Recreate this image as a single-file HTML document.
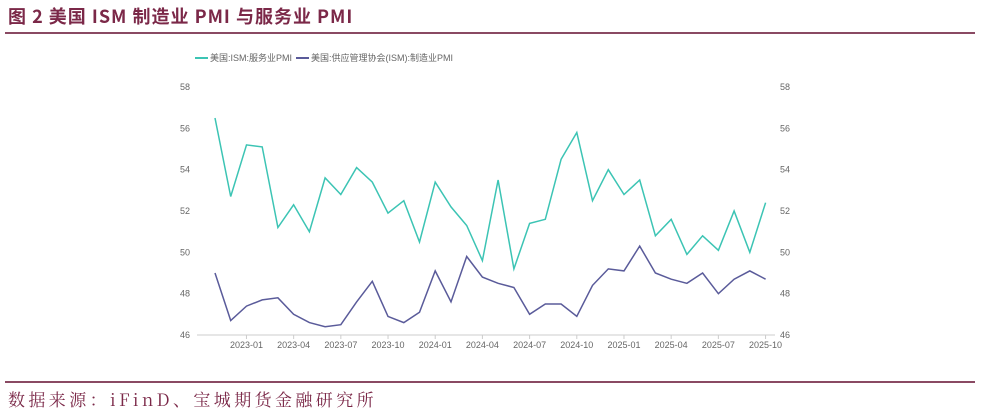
<!DOCTYPE html>
<html><head><meta charset="utf-8"><style>
body{margin:0;width:981px;height:414px;background:#fff;overflow:hidden;font-family:"Liberation Sans","Noto Sans CJK SC",sans-serif}
.t{position:absolute;left:8px;top:3px;font-size:18px;font-weight:bold;color:#7b2848;letter-spacing:1px;font-family:"Noto Sans CJK SC",sans-serif;white-space:nowrap}
.l1{position:absolute;left:5px;top:32px;width:970px;height:2px;background:#8a4a63}
.l2{position:absolute;left:5px;top:381px;width:970px;height:2px;background:#8a4a63}
.s{position:absolute;left:8px;top:386px;font-size:17px;color:#7b2848;letter-spacing:3.4px;font-family:"Noto Serif CJK SC",serif;white-space:nowrap}
svg{position:absolute;left:0;top:0}
text{font-family:"Liberation Sans","Noto Sans CJK SC",sans-serif;font-size:9px;fill:#666}
</style></head><body>
<div class="t">图 2 美国 ISM 制造业 PMI 与服务业 PMI</div>
<div class="l1"></div>
<svg width="981" height="414" id="c">
<line x1="197" y1="335" x2="775" y2="335" stroke="#ccc"/>
<line x1="195" y1="58" x2="208" y2="58" stroke="#3cc4b4" stroke-width="2"/>
<text x="210" y="61">美国:ISM:服务业PMI</text>
<line x1="296" y1="58" x2="309" y2="58" stroke="#5a5b9a" stroke-width="2"/>
<text x="311" y="61">美国:供应管理协会(ISM):制造业PMI</text>
</svg>
<div class="l2"></div>
<div class="s">数据来源：iFinD、宝城期货金融研究所</div>
<script>
var s=[56.5,52.7,55.2,55.1,51.2,52.3,51.0,53.6,52.8,54.1,53.4,51.9,52.5,50.5,53.4,52.2,51.3,49.6,53.5,49.2,51.4,51.6,54.5,55.8,52.5,54.0,52.8,53.5,50.8,51.6,49.9,50.8,50.1,52.0,50.0,52.4];
var m=[49.0,46.7,47.4,47.7,47.8,47.0,46.6,46.4,46.5,47.6,48.6,46.9,46.6,47.1,49.1,47.6,49.8,48.8,48.5,48.3,47.0,47.5,47.5,46.9,48.4,49.2,49.1,50.3,49.0,48.7,48.5,49.0,48.0,48.7,49.1,48.7];
function X(i){return 215+i*15.73}function Y(v){return 335-(v-46)*20.667}
var h='';
for(var v=46;v<=58;v+=2){h+='<text x="190" y="'+(Y(v)+3)+'" text-anchor="end">'+v+'</text><text x="780" y="'+(Y(v)+3)+'">'+v+'</text>';}
var L=['2023-01','2023-04','2023-07','2023-10','2024-01','2024-04','2024-07','2024-10','2025-01','2025-04','2025-07','2025-10'];
for(var k=0;k<L.length;k++){var x=X(2+3*k);h+='<line x1="'+x+'" y1="335" x2="'+x+'" y2="339" stroke="#ccc"/><text x="'+x+'" y="348" text-anchor="middle">'+L[k]+'</text>';}
function P(a,c){return '<polyline fill="none" stroke="'+c+'" stroke-width="1.5" points="'+a.map(function(v,i){return X(i).toFixed(1)+','+Y(v).toFixed(1)}).join(' ')+'"/>';}
h+=P(s,'#3cc4b4')+P(m,'#5a5b9a');
document.getElementById('c').insertAdjacentHTML('beforeend',h);
</script>
</body></html>
